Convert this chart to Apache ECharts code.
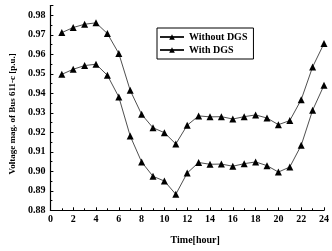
<!DOCTYPE html>
<html>
<head>
<meta charset="utf-8">
<script src="https://cdn.jsdelivr.net/npm/echarts@6/dist/echarts.min.js"></script>
<style>
  html, body { margin: 0; padding: 0; background: #fff; }
  #chart { width: 332px; height: 251px; }
</style>
</head>
<body>
<div id="chart"></div>
<script>
// hours 1..24
const hours = [1, 2, 3, 4, 5, 6, 7, 8, 9, 10, 11, 12, 13, 14, 15, 16, 17, 18, 19, 20, 21, 22, 23, 24]
const withoutDGS = [0.9497, 0.9523, 0.9542, 0.9549, 0.9492, 0.9381, 0.9181, 0.9048, 0.8974, 0.8950, 0.8882, 0.8991,
  0.9045, 0.9036, 0.9037, 0.9026, 0.9039, 0.9048, 0.9029, 0.8996, 0.9022, 0.9133, 0.9313, 0.9441]
const withDGS = [0.9711, 0.9737, 0.9754, 0.9761, 0.9706, 0.9604, 0.9415, 0.9292, 0.9223, 0.9198, 0.9140, 0.9236,
  0.9284, 0.9279, 0.9280, 0.9268, 0.9280, 0.9289, 0.9273, 0.9239, 0.9260, 0.9367, 0.9535, 0.9655]
const xTicks = [0, 24, 2]
const yTicks = [0.88, 0.985, 0.01]

const font = '"Liberation Serif", "Times New Roman", serif'

function pairs(vals) {
  return hours.map((h, i) => [h, vals[i]])
}

const chart = echarts.init(document.getElementById('chart'), null, { renderer: 'canvas' })

const lineSeries = (name, vals) => ({
  name: name,
  type: 'line',
  data: pairs(vals),
  symbol: 'triangle',
  symbolSize: 7,
  clip: false,
  lineStyle: { color: '#222', width: 0.8 },
  itemStyle: { color: '#000' },
  animation: false
})

chart.setOption({
  backgroundColor: '#fff',
  textStyle: { fontFamily: font },
  grid: { left: 50, right: 4, top: 5.5, bottom: 40.7 },
  legend: {
    orient: 'vertical',
    left: 157,
    top: 28,
    itemWidth: 24,
    itemHeight: 7,
    itemGap: 3,
    padding: [4, 6, 4, 2],
    borderColor: '#000',
    borderWidth: 1,
    backgroundColor: '#fff',
    textStyle: { fontFamily: font, fontWeight: 'bold', fontSize: 10, color: '#000' },
    data: ['Without DGS', 'With DGS']
  },
  xAxis: {
    type: 'value',
    min: xTicks[0],
    max: xTicks[1],
    interval: xTicks[2],
    name: 'Time[hour]',
    nameLocation: 'middle',
    nameGap: 25,
    nameTextStyle: { fontFamily: font, fontWeight: 'bold', fontSize: 10, color: '#000', padding: [0, 0, 0, 16] },
    axisLine: { lineStyle: { color: '#000', width: 1.2 } },
    axisTick: { inside: true, length: 3, lineStyle: { color: '#000' } },
    minorTick: { show: true, splitNumber: 2, length: 2, lineStyle: { color: '#000' } },
    axisLabel: { fontFamily: font, fontWeight: 'bold', fontSize: 10, color: '#000', margin: 4 },
    splitLine: { show: false }
  },
  yAxis: {
    type: 'value',
    min: yTicks[0],
    max: yTicks[1],
    interval: yTicks[2],
    name: 'Voltage mag. of Bus 611-c [p.u.]',
    nameLocation: 'middle',
    nameGap: 33,
    nameTextStyle: { fontFamily: font, fontWeight: 'bold', fontSize: 9, color: '#000', padding: [0, 12, 0, 0] },
    axisLine: { show: true, lineStyle: { color: '#000', width: 1.2 } },
    axisTick: { show: true, inside: true, length: 3, lineStyle: { color: '#000' } },
    minorTick: { show: true, splitNumber: 2, length: 2, lineStyle: { color: '#000' } },
    axisLabel: {
      fontFamily: font, fontWeight: 'bold', fontSize: 10, color: '#000', margin: 5,
      showMaxLabel: false,
      formatter: v => v.toFixed(2)
    },
    splitLine: { show: false }
  },
  series: [
    lineSeries('Without DGS', withoutDGS),
    lineSeries('With DGS', withDGS)
  ]
})
</script>
</body>
</html>
